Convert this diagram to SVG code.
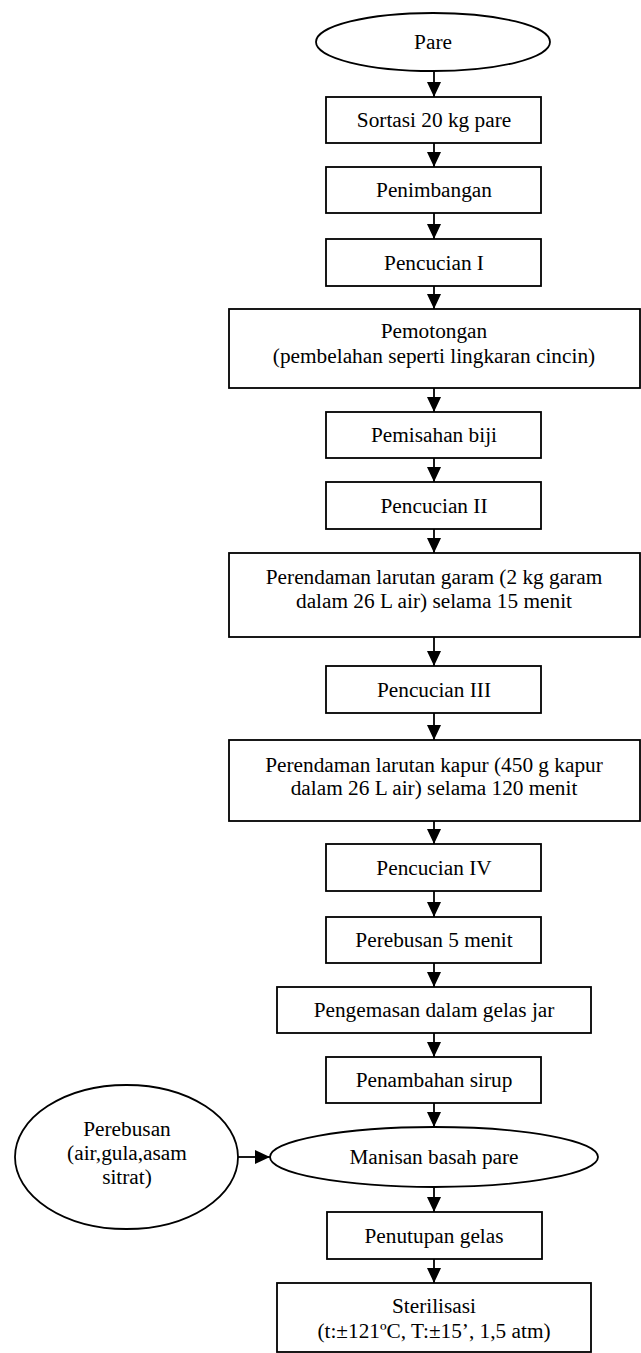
<svg xmlns="http://www.w3.org/2000/svg" width="641" height="1353" viewBox="0 0 641 1353">
<style>
.n{fill:#fff;stroke:#000;stroke-width:1.8}
.t{font-family:"Liberation Serif","Times New Roman",serif;font-size:21.3px;fill:#000;text-anchor:middle}
.c{stroke:#000;stroke-width:1.8;fill:none}
</style>
<defs>
<marker id="ah" markerUnits="userSpaceOnUse" markerWidth="16" markerHeight="16" viewBox="0 0 16 16" refX="15" refY="8" orient="auto">
<polygon points="0,1 15,8 0,15" fill="#000"/>
</marker>
</defs>
<rect width="641" height="1353" fill="#fff"/>
<g id="connectors">
<line class="c" x1="434" y1="71" x2="434" y2="97" marker-end="url(#ah)"/>
<line class="c" x1="434" y1="143" x2="434" y2="167" marker-end="url(#ah)"/>
<line class="c" x1="434" y1="213" x2="434" y2="239" marker-end="url(#ah)"/>
<line class="c" x1="434" y1="286" x2="434" y2="309" marker-end="url(#ah)"/>
<line class="c" x1="434" y1="388" x2="434" y2="412" marker-end="url(#ah)"/>
<line class="c" x1="434" y1="458" x2="434" y2="482" marker-end="url(#ah)"/>
<line class="c" x1="434" y1="529" x2="434" y2="553" marker-end="url(#ah)"/>
<line class="c" x1="434" y1="637" x2="434" y2="666" marker-end="url(#ah)"/>
<line class="c" x1="434" y1="713" x2="434" y2="740" marker-end="url(#ah)"/>
<line class="c" x1="434" y1="821" x2="434" y2="844" marker-end="url(#ah)"/>
<line class="c" x1="434" y1="891" x2="434" y2="917" marker-end="url(#ah)"/>
<line class="c" x1="434" y1="963" x2="434" y2="987" marker-end="url(#ah)"/>
<line class="c" x1="434" y1="1033" x2="434" y2="1057" marker-end="url(#ah)"/>
<line class="c" x1="434" y1="1103" x2="434" y2="1127" marker-end="url(#ah)"/>
<line class="c" x1="434" y1="1187" x2="434" y2="1212" marker-end="url(#ah)"/>
<line class="c" x1="434" y1="1259" x2="434" y2="1283" marker-end="url(#ah)"/>
<line class="c" x1="238" y1="1157" x2="270" y2="1157" marker-end="url(#ah)"/>
</g>
<g id="pare"><ellipse class="n" cx="433" cy="42" rx="117" ry="29"/><text class="t" x="433" y="49">Pare</text></g>
<g id="sortasi"><rect class="n" x="326" y="97" width="215" height="46"/><text class="t" x="434" y="127">Sortasi 20 kg pare</text></g>
<g id="penimbangan"><rect class="n" x="326" y="167" width="215" height="46"/><text class="t" x="434" y="197">Penimbangan</text></g>
<g id="pencucian1"><rect class="n" x="326" y="239" width="215" height="47"/><text class="t" x="434" y="270">Pencucian I</text></g>
<g id="pemotongan"><rect class="n" x="229" y="309" width="411" height="79"/><text class="t" x="434" y="338">Pemotongan</text><text class="t" x="434" y="363">(pembelahan seperti lingkaran cincin)</text></g>
<g id="pemisahan"><rect class="n" x="326" y="412" width="215" height="46"/><text class="t" x="434" y="442">Pemisahan biji</text></g>
<g id="pencucian2"><rect class="n" x="326" y="482" width="215" height="47"/><text class="t" x="434" y="513">Pencucian II</text></g>
<g id="perendaman-garam"><rect class="n" x="229" y="553" width="411" height="84"/><text class="t" x="434" y="584">Perendaman larutan garam (2 kg garam</text><text class="t" x="434" y="608">dalam 26 L air) selama 15 menit</text></g>
<g id="pencucian3"><rect class="n" x="326" y="666" width="215" height="47"/><text class="t" x="434" y="697">Pencucian III</text></g>
<g id="perendaman-kapur"><rect class="n" x="229" y="740" width="411" height="81"/><text class="t" x="434" y="772">Perendaman larutan kapur (450 g kapur</text><text class="t" x="434" y="795">dalam 26 L air) selama 120 menit</text></g>
<g id="pencucian4"><rect class="n" x="326" y="844" width="215" height="47"/><text class="t" x="434" y="875">Pencucian IV</text></g>
<g id="perebusan5"><rect class="n" x="326" y="917" width="215" height="46"/><text class="t" x="434" y="947">Perebusan 5 menit</text></g>
<g id="pengemasan"><rect class="n" x="277" y="987" width="314" height="46"/><text class="t" x="434" y="1017">Pengemasan dalam gelas jar</text></g>
<g id="penambahan"><rect class="n" x="326" y="1057" width="215" height="46"/><text class="t" x="434" y="1087">Penambahan sirup</text></g>
<g id="manisan"><ellipse class="n" cx="434" cy="1157" rx="164" ry="30"/><text class="t" x="434" y="1164">Manisan basah pare</text></g>
<g id="perebusan-sirup"><ellipse class="n" cx="126.5" cy="1157" rx="111.5" ry="72"/><text class="t" x="127" y="1136">Perebusan</text><text class="t" x="127" y="1160">(air,gula,asam</text><text class="t" x="127" y="1184">sitrat)</text></g>
<g id="penutupan"><rect class="n" x="327" y="1212" width="215" height="47"/><text class="t" x="434" y="1243">Penutupan gelas</text></g>
<g id="sterilisasi"><rect class="n" x="277" y="1283" width="314" height="69"/><text class="t" x="434" y="1313">Sterilisasi</text><text class="t" x="434" y="1338">(t:±121ºC, T:±15’, 1,5 atm)</text></g>
</svg>
